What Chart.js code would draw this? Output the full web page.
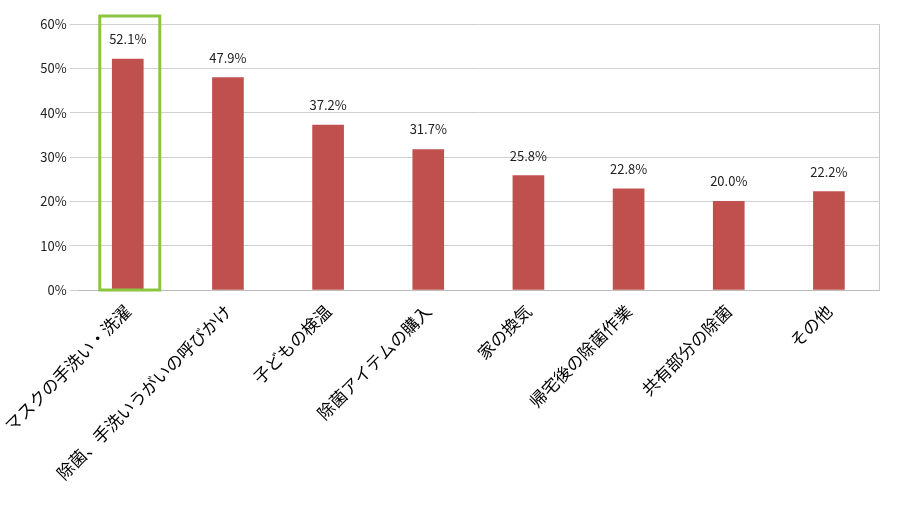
<!DOCTYPE html>
<html><head><meta charset="utf-8">
<script src="https://cdn.jsdelivr.net/npm/chart.js@4"></script>
<style>body{margin:0;background:#fff}#w{width:907px;height:507px}</style>
</head><body><div id="w"><canvas id="c"></canvas></div>
<script>
const categories=["マスクの手洗い・洗濯","除菌、手洗いうがいの呼びかけ","子どもの検温","除菌アイテムの購入","家の換気","帰宅後の除菌作業","共有部分の除菌","その他"];
const values=[52.1,47.9,37.2,31.7,25.8,22.8,20.0,22.2];
const yTicks=[0,10,20,30,40,50,60];
const font="'Noto Sans CJK JP','Noto Sans',sans-serif";
const deco={id:'deco',afterDatasetsDraw(ch){
  const c=ch.ctx,x=ch.scales.x,y=ch.scales.y,a=ch.chartArea;
  c.save();
  c.strokeStyle='#c8c8c8';c.lineWidth=1;
  c.beginPath();c.moveTo(a.right+0.5,a.top);c.lineTo(a.right+0.5,a.bottom);c.stroke();
  c.font="13px "+font;c.fillStyle="#222";c.textAlign="center";
  values.forEach((v,i)=>c.fillText(v.toFixed(1)+"%",x.getPixelForValue(i),y.getPixelForValue(v)-15));
  const cx=x.getPixelForValue(0);
  c.strokeStyle="#8cc63f";c.lineWidth=3;
  c.strokeRect(cx-28,16,60,y.getPixelForValue(0)-16);
  c.restore();}};
new Chart(document.getElementById('c'),{type:'bar',
 data:{labels:categories,datasets:[{data:values,backgroundColor:'#c0504d',barThickness:31}]},
 options:{responsive:true,maintainAspectRatio:false,animation:false,
  layout:{padding:{top:24,right:28,left:0,bottom:0}},
  plugins:{legend:{display:false},tooltip:{enabled:false}},
  scales:{
   x:{grid:{display:false},border:{color:'#bbb'},afterFit(s){s.height=217;},
      ticks:{minRotation:45,maxRotation:45,color:'#000',font:{family:font,size:17}}},
   y:{min:0,max:60,afterBuildTicks(s){s.ticks=yTicks.map(v=>({value:v}));},afterFit(s){s.width=73;},
      grid:{color:'#d0d0d0'},border:{display:false},
      ticks:{color:'#222',font:{family:font,size:13},callback:v=>v+'%'}}
  }}, plugins:[deco]});
</script></body></html>
